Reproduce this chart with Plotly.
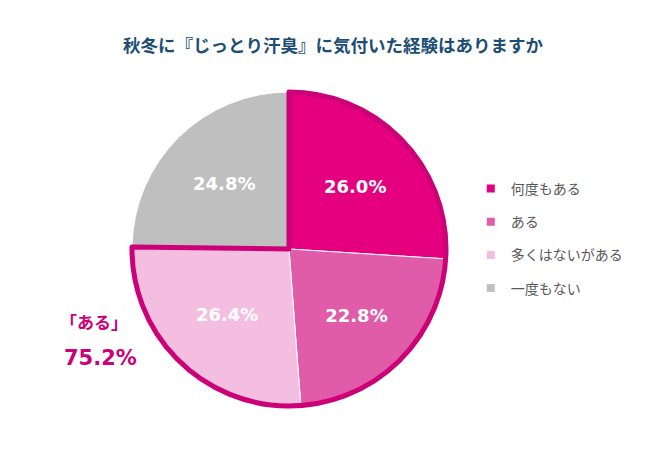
import plotly.graph_objects as go

labels = ["何度もある", "ある", "多くはないがある", "一度もない"]
values = [26.0, 22.8, 26.4, 24.8]
colors = ["#E4007F", "#E05CA8", "#F4BEE0", "#BFBFBF"]
group_label = "「ある」"
group_value = 75.2

font = "Noto Sans CJK JP"
num_font = "DejaVu Sans"
dom = dict(x=[124 / 650, 438 / 650], y=[52 / 450, 366 / 450])

fig = go.Figure()

fig.add_trace(
    go.Pie(
        labels=labels,
        values=values,
        sort=False,
        direction="clockwise",
        rotation=0,
        marker=dict(colors=colors, line=dict(color="white", width=1)),
        text=[f"{v:.1f}%" for v in values],
        textinfo="text",
        textposition="inside",
        insidetextorientation="horizontal",
        textfont=dict(family=num_font, size=18, color="white", weight="bold"),
        showlegend=False,
        hoverinfo="label+value",
        domain=dom,
    )
)

# outline around the "ある" group
fig.add_trace(
    go.Pie(
        labels=["ある計", "なし"],
        values=[group_value, 100 - group_value],
        sort=False,
        direction="clockwise",
        rotation=0,
        marker=dict(
            colors=["rgba(0,0,0,0)", "rgba(0,0,0,0)"],
            line=dict(color=["#CC0077", "rgba(0,0,0,0)"], width=[5, 0]),
        ),
        textinfo="none",
        hoverinfo="skip",
        showlegend=False,
        domain=dom,
    )
)

# legend entries
for i, (lab, col) in enumerate(zip(labels, colors)):
    fig.add_trace(
        go.Scatter(
            x=[None], y=[None], mode="markers", name=lab,
            legendgroup=f"g{i}",
            marker=dict(symbol="square", size=8, color=col),
        )
    )

fig.update_layout(
    width=650,
    height=450,
    margin=dict(l=0, r=0, t=0, b=0),
    paper_bgcolor="white",
    plot_bgcolor="white",
    xaxis=dict(visible=False),
    yaxis=dict(visible=False),
    font=dict(family=font),
    title=dict(
        text="秋冬に『じっとり汗臭』に気付いた経験はありますか",
        x=0.5, xanchor="center", y=0.915, yanchor="middle",
        font=dict(family=font, size=17.5, color="#1C4E74", weight="bold"),
    ),
    legend=dict(
        x=0.712, y=0.488, xanchor="left", yanchor="middle",
        font=dict(family=font, size=14, color="#595959"),
        tracegroupgap=12,
        itemwidth=30,
    ),
    annotations=[
        dict(text=group_label, x=86 / 650, y=1 - 313 / 450, xref="paper", yref="paper",
             xanchor="center", yanchor="middle", showarrow=False,
             font=dict(family=font, size=17, color="#CC0077", weight="bold")),
        dict(text=f"{group_value:.1f}%", x=92 / 650, y=1 - 350 / 450, xref="paper", yref="paper",
             xanchor="center", yanchor="middle", showarrow=False,
             font=dict(family=num_font, size=21, color="#CC0077", weight="bold")),
    ],
)

fig.write_html("out.html")
